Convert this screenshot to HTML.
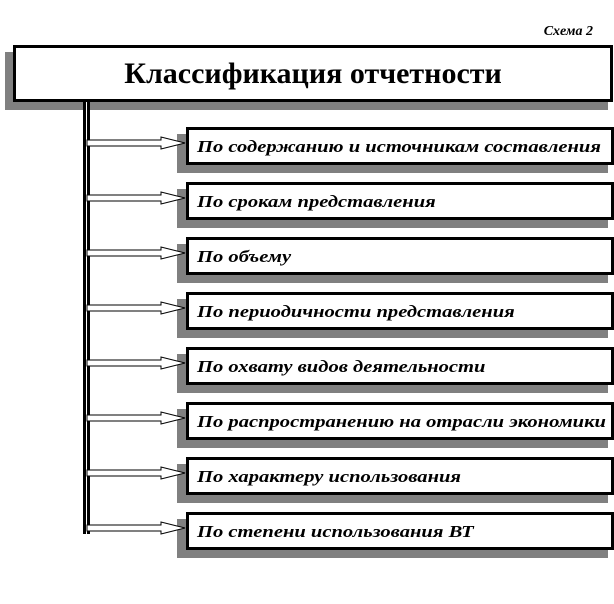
<!DOCTYPE html>
<html><head><meta charset="utf-8"><style>
html,body{margin:0;padding:0;background:#fff;}
svg{display:block;}
.t{font-family:"Liberation Serif",serif;font-weight:bold;font-style:italic;font-size:17px;fill:#000;}
.sh{fill:#808080;}
.bx{fill:#fff;stroke:#000;stroke-width:3;}
.ar{fill:#fff;stroke:#000;stroke-width:1;}
</style></head><body>
<svg width="614" height="604" viewBox="0 0 614 604" xmlns="http://www.w3.org/2000/svg">
<text x="593" y="35" text-anchor="end" class="t" style="font-size:14px">Схема 2</text>
<rect x="5" y="52" width="603" height="58" fill="#808080"/>
<rect x="14.5" y="46.5" width="597" height="54" fill="#fff" stroke="#000" stroke-width="3"/>
<text x="313" y="83" text-anchor="middle" font-family="Liberation Serif, serif" font-weight="bold" font-size="30">Классификация отчетности</text>
<rect x="83" y="102" width="7" height="432" fill="#000"/>
<rect x="86" y="102" width="1" height="432" fill="#fff"/>

<g>
<rect class="sh" x="177" y="134" width="431" height="39"/>
<rect class="bx" x="187.5" y="128.5" width="425" height="35"/>
<path class="ar" d="M87 140 H161 V137 L185 143 L161 149 V146 H87 Z"/>
<g transform="translate(197,152) scale(1.21,1)"><text x="0" y="0" class="t">По содержанию и источникам составления</text></g>
</g>
<g transform="translate(0,55)">
<rect class="sh" x="177" y="134" width="431" height="39"/>
<rect class="bx" x="187.5" y="128.5" width="425" height="35"/>
<path class="ar" d="M87 140 H161 V137 L185 143 L161 149 V146 H87 Z"/>
<g transform="translate(197,152) scale(1.21,1)"><text x="0" y="0" class="t">По срокам представления</text></g>
</g>
<g transform="translate(0,110)">
<rect class="sh" x="177" y="134" width="431" height="39"/>
<rect class="bx" x="187.5" y="128.5" width="425" height="35"/>
<path class="ar" d="M87 140 H161 V137 L185 143 L161 149 V146 H87 Z"/>
<g transform="translate(197,152) scale(1.21,1)"><text x="0" y="0" class="t">По объему</text></g>
</g>
<g transform="translate(0,165)">
<rect class="sh" x="177" y="134" width="431" height="39"/>
<rect class="bx" x="187.5" y="128.5" width="425" height="35"/>
<path class="ar" d="M87 140 H161 V137 L185 143 L161 149 V146 H87 Z"/>
<g transform="translate(197,152) scale(1.21,1)"><text x="0" y="0" class="t">По периодичности представления</text></g>
</g>
<g transform="translate(0,220)">
<rect class="sh" x="177" y="134" width="431" height="39"/>
<rect class="bx" x="187.5" y="128.5" width="425" height="35"/>
<path class="ar" d="M87 140 H161 V137 L185 143 L161 149 V146 H87 Z"/>
<g transform="translate(197,152) scale(1.21,1)"><text x="0" y="0" class="t">По охвату видов деятельности</text></g>
</g>
<g transform="translate(0,275)">
<rect class="sh" x="177" y="134" width="431" height="39"/>
<rect class="bx" x="187.5" y="128.5" width="425" height="35"/>
<path class="ar" d="M87 140 H161 V137 L185 143 L161 149 V146 H87 Z"/>
<g transform="translate(197,152) scale(1.21,1)"><text x="0" y="0" class="t">По распространению на отрасли экономики</text></g>
</g>
<g transform="translate(0,330)">
<rect class="sh" x="177" y="134" width="431" height="39"/>
<rect class="bx" x="187.5" y="128.5" width="425" height="35"/>
<path class="ar" d="M87 140 H161 V137 L185 143 L161 149 V146 H87 Z"/>
<g transform="translate(197,152) scale(1.21,1)"><text x="0" y="0" class="t">По характеру использования</text></g>
</g>
<g transform="translate(0,385)">
<rect class="sh" x="177" y="134" width="431" height="39"/>
<rect class="bx" x="187.5" y="128.5" width="425" height="35"/>
<path class="ar" d="M87 140 H161 V137 L185 143 L161 149 V146 H87 Z"/>
<g transform="translate(197,152) scale(1.21,1)"><text x="0" y="0" class="t">По степени использования ВТ</text></g>
</g>
</svg>
</body></html>
